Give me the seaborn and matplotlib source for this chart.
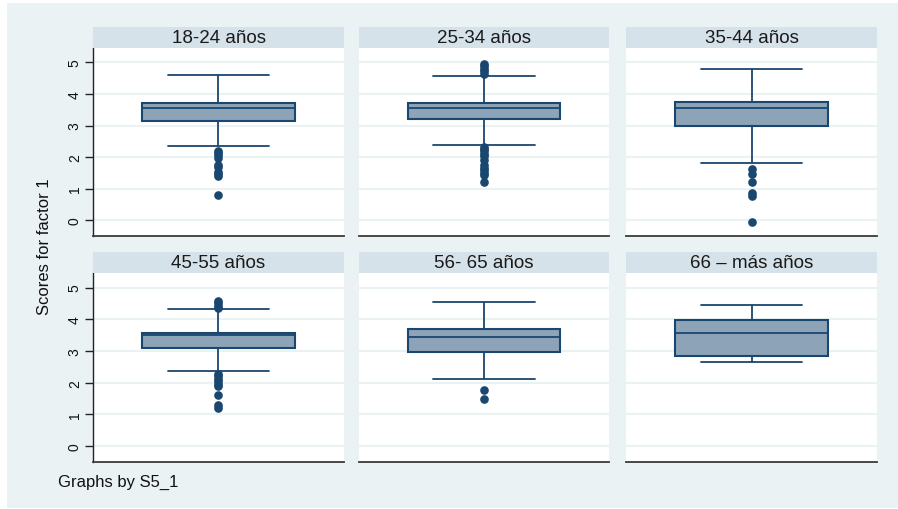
import numpy as np
import pandas as pd
import matplotlib
matplotlib.use("Agg")
import matplotlib.pyplot as plt
from matplotlib.patches import Rectangle
import seaborn as sns

# Age groups (one panel each) and the box summary of factor-1 scores
GROUPS = ["18-24 años", "25-34 años", "35-44 años",
          "45-55 años", "56- 65 años", "66 – más años"]
WHISKER_LOW = [2.36, 2.37, 1.82, 2.37, 2.12, 2.65]
Q1 = [3.13, 3.20, 2.99, 3.105, 2.97, 2.85]
MEDIAN = [3.57, 3.57, 3.57, 3.50, 3.43, 3.56]
Q3 = [3.70, 3.71, 3.75, 3.56, 3.69, 3.98]
WHISKER_HIGH = [4.59, 4.56, 4.80, 4.31, 4.56, 4.46]
OUTLIERS_LOW = [
    [2.20, 2.12, 2.05, 1.97, 1.75, 1.68, 1.51, 1.45, 1.41, 0.80],
    [2.32, 2.25, 2.18, 2.10, 2.03, 1.91, 1.76, 1.66, 1.58, 1.50, 1.42, 1.22],
    [1.62, 1.46, 1.22, 0.85, 0.75, -0.07],
    [2.27, 2.20, 2.12, 2.05, 1.97, 1.90, 1.61, 1.29, 1.19],
    [1.78, 1.48],
    [],
]
OUTLIERS_HIGH = [
    [],
    [4.95, 4.88, 4.80, 4.72, 4.65],
    [],
    [4.57, 4.50, 4.43, 4.37],
    [],
    [],
]
Y_TICKS = [0, 1, 2, 3, 4, 5]
Y_LABEL = "Scores for factor 1"
NOTE = "Graphs by S5_1"

NAVY = "#1a476f"
BOX_FILL = "#8da3b7"
BG = "#eaf2f3"
STRIP = "#d6e2e9"
GRID = "#eaf2f3"

W, H = 898, 510


def summary_sample(i, n=100):
    """Scores reproducing the quartiles, adjacent values and outliers of group i."""
    return np.concatenate([
        OUTLIERS_LOW[i], [WHISKER_LOW[i]],
        np.repeat(Q1[i], n), np.repeat(MEDIAN[i], n), np.repeat(Q3[i], n),
        [WHISKER_HIGH[i]], OUTLIERS_HIGH[i],
    ])


frames = [pd.DataFrame({"S5_1": g, "score": summary_sample(i)})
          for i, g in enumerate(GROUPS)]
df = pd.concat(frames, ignore_index=True)

sns.set_theme(style="white")
plt.rcParams["font.family"] = ["Liberation Sans", "DejaVu Sans"]

fig = plt.figure(figsize=(W / 100, H / 100), dpi=100)
fig.patch.set_facecolor("white")
fig.add_artist(Rectangle((7 / W, 1 / H), (W - 7) / W, (509 - 4) / H,
                         transform=fig.transFigure, facecolor=BG,
                         edgecolor="none", zorder=0))


def px_rect(x0, y0, x1, y1):
    return [x0 / W, 1 - y1 / H, (x1 - x0) / W, (y1 - y0) / H]


cols = [(93, 344), (359, 609), (626, 877)]
rows = [(49, 237), (274, 463)]
strip_h = 21

for i, group in enumerate(GROUPS):
    r, c = divmod(i, 3)
    x0, x1 = cols[c]
    y0, y1 = rows[r]
    ax = fig.add_axes(px_rect(x0, y0, x1, y1))
    ax.set_facecolor("white")

    iqr = Q3[i] - Q1[i]
    whis = max(WHISKER_HIGH[i] - Q3[i], Q1[i] - WHISKER_LOW[i]) / iqr + 1e-6

    sns.boxplot(data=df[df["S5_1"] == group], y="score", ax=ax,
                width=0.61, color=BOX_FILL, linecolor=NAVY, linewidth=1.3,
                whis=whis, fliersize=5.2, saturation=1,
                flierprops=dict(marker="o", markerfacecolor=NAVY,
                                markeredgecolor=NAVY, markersize=5.2),
                capwidths=0.406)
    for patch in ax.patches:
        patch.set_facecolor(BOX_FILL)
        patch.set_edgecolor(NAVY)
        patch.set_linewidth(1.5)

    ax.set_xlim(-0.5, 0.5)
    ax.set_ylim(-0.505, 5.46)
    ax.set_yticks(Y_TICKS)
    ax.yaxis.grid(True, color=GRID, linewidth=1.5)
    ax.set_axisbelow(True)
    ax.set_xlabel("")
    ax.set_ylabel("")
    ax.set_xticks([])
    for side in ("top", "right"):
        ax.spines[side].set_visible(False)
    ax.spines["bottom"].set_color("#3a3a3a")
    ax.spines["bottom"].set_linewidth(1.3)
    if c == 0:
        ax.spines["left"].set_color("#222222")
        ax.spines["left"].set_linewidth(1.0)
        ax.tick_params(axis="y", left=True, length=6, width=1, color="#222222",
                       pad=2, labelsize=10, labelcolor="#111111")
        ax.set_yticklabels([str(t) for t in Y_TICKS], rotation=90, va="center")
    else:
        ax.spines["left"].set_visible(False)
        ax.tick_params(axis="y", left=False, labelleft=False)

    # panel header strip
    sy0 = y0 - strip_h
    fig.add_artist(Rectangle((x0 / W, 1 - y0 / H), (x1 - x0) / W, strip_h / H,
                             transform=fig.transFigure, facecolor=STRIP,
                             edgecolor="none", zorder=1))
    fig.text((x0 + x1) / 2 / W, 1 - (sy0 + strip_h / 2 + 0.5) / H, group,
             ha="center", va="center", fontsize=13.5, color="#1a1a1a")

fig.text(45 / W, 1 - 247 / H, Y_LABEL, rotation=90, ha="center", va="center",
         fontsize=12, color="#111111")
fig.text(58 / W, 1 - 482 / H, NOTE, ha="left", va="center",
         fontsize=12, color="#111111")

fig.savefig("out.png", dpi=100, facecolor="white")
